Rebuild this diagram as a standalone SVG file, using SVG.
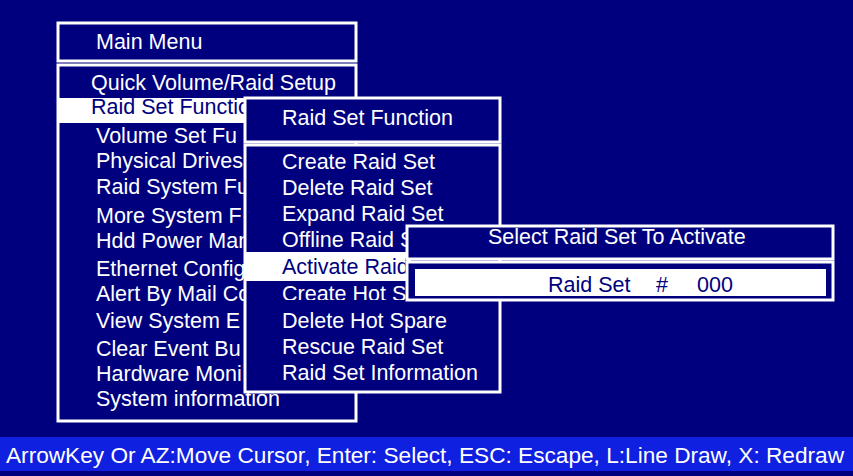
<svg xmlns="http://www.w3.org/2000/svg" width="853" height="476" viewBox="0 0 853 476">
<style>
text{font-family:"Liberation Sans",Arial,sans-serif;font-size:21.5px;fill:#fff}
.box{fill:#00007f;stroke:#fff;stroke-width:3}
.hl{fill:#fff}
text.dk{fill:#00007f}
</style>
<defs>
<clipPath id="cm"><rect x="0" y="0" width="245" height="476"/></clipPath>
<clipPath id="cs"><rect x="0" y="226" width="407" height="74"/></clipPath>
</defs>
<rect width="853" height="476" fill="#00007f"/>
<rect y="437" width="853" height="34" fill="#1020e0"/>
<g id="main-menu">
<rect class="box" x="58" y="23" width="298" height="38"/>
<rect class="box" x="58" y="65" width="298" height="356"/>
<rect class="hl" x="58" y="98" width="200" height="25"/>
<text x="96" y="49">Main Menu</text>
<text x="91" y="90">Quick Volume/Raid Setup</text>
<text class="dk" x="91" y="114">Raid Set Function</text>
<g clip-path="url(#cm)">
<text x="96" y="143">Volume Set Fu</text>
<text x="96" y="168">Physical Drives</text>
<text x="96" y="194">Raid System Fu</text>
<text x="96" y="223">More System F</text>
<text x="96" y="248">Hdd Power Man</text>
<text x="96" y="276">Ethernet Config</text>
<text x="96" y="301">Alert By Mail Co</text>
<text x="96" y="328">View System E</text>
<text x="96" y="356">Clear Event Bu</text>
<text x="96" y="381">Hardware Moni</text>
</g>
<text x="96" y="406">System information</text>
</g>
<g id="raid-set-function">
<rect class="box" x="245" y="98" width="255" height="44"/>
<rect class="box" x="245" y="145" width="255" height="247"/>
<rect class="hl" x="246" y="252" width="165" height="29"/>
<text x="282" y="125">Raid Set Function</text>
<text x="282" y="169">Create Raid Set</text>
<text x="282" y="195">Delete Raid Set</text>
<text x="282" y="221">Expand Raid Set</text>
<g clip-path="url(#cs)">
<text x="282" y="247">Offline Raid S</text>
<text class="dk" x="282" y="274">Activate Raid</text>
<text x="282" y="301">Create Hot S</text>
</g>
<text x="282" y="328">Delete Hot Spare</text>
<text x="282" y="354">Rescue Raid Set</text>
<text x="282" y="380">Raid Set Information</text>
</g>
<g id="select-raid-set">
<rect class="box" x="407" y="226" width="426" height="33"/>
<rect class="box" x="407" y="262" width="426" height="38"/>
<rect class="hl" x="415" y="269" width="411" height="27"/>
<text x="488" y="244">Select Raid Set To Activate</text>
<text class="dk" x="548" y="292">Raid Set</text>
<text class="dk" x="656" y="292">#</text>
<text class="dk" x="697" y="292">000</text>
</g>
<g id="connectors"></g>
<text x="6" y="463" textLength="838" lengthAdjust="spacingAndGlyphs">ArrowKey Or AZ:Move Cursor, Enter: Select, ESC: Escape, L:Line Draw, X: Redraw</text>
</svg>
